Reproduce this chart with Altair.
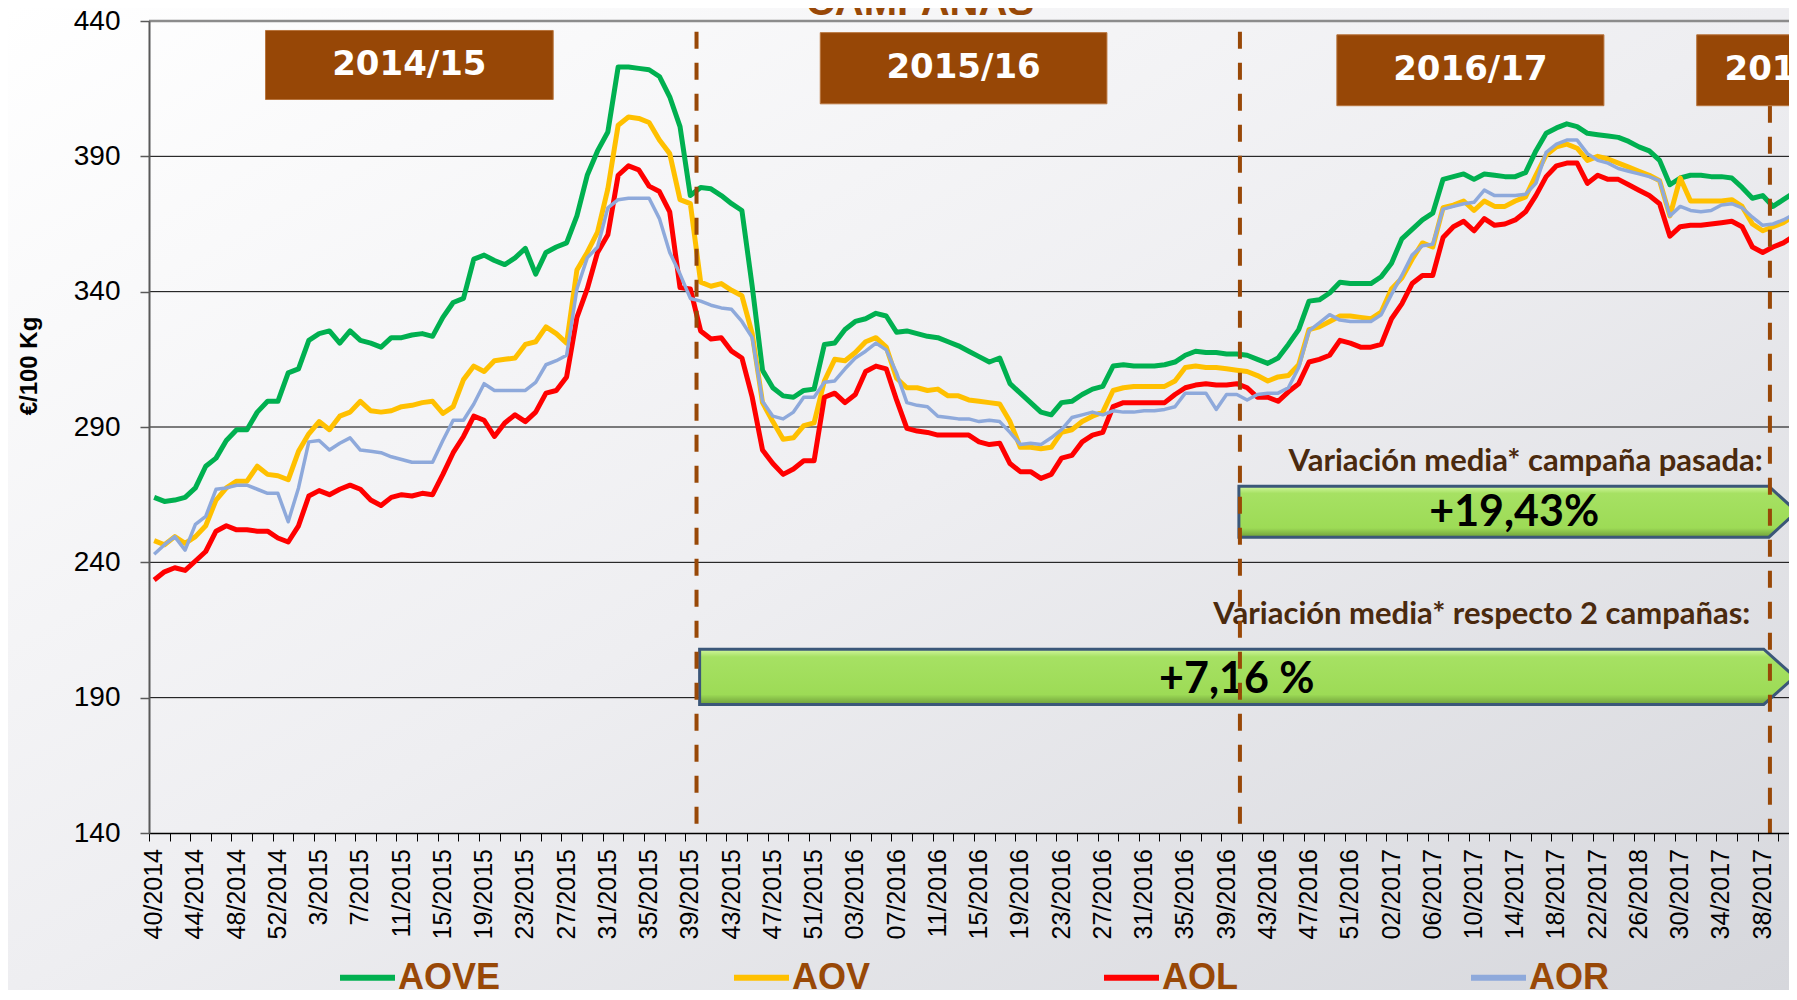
import altair as alt
import pandas as pd

# ---------------- data ----------------
week_labels = [
    "40/2014", "44/2014", "48/2014", "52/2014", "3/2015", "7/2015", "11/2015", "15/2015",
    "19/2015", "23/2015", "27/2015", "31/2015", "35/2015", "39/2015", "43/2015", "47/2015",
    "51/2015", "03/2016", "07/2016", "11/2016", "15/2016", "19/2016", "23/2016", "27/2016",
    "31/2016", "35/2016", "39/2016", "43/2016", "47/2016", "51/2016", "02/2017", "06/2017",
    "10/2017", "14/2017", "18/2017", "22/2017", "26/2018", "30/2017", "34/2017", "38/2017",
]

aove = [
    264, 262.5, 263, 264, 267.5, 275.5, 278.5, 285, 289, 289, 295.5, 299.5, 299.5, 310, 311.5,
    322, 324.5, 325.5, 321, 325.5, 322, 321, 319.5, 323, 323, 324, 324.5, 323.5, 330.5, 336,
    337.5, 352, 353.5, 351.5, 350, 352.5, 356, 346.5, 354.5, 356.5, 358,
    368, 383, 392, 399, 423, 423, 422.5, 422, 419.5, 412, 401, 375.5, 378.5, 378, 375.5, 372.5,
    370, 342, 311, 304.5, 301.5, 301, 303.5, 304, 320.5, 321, 326, 329, 330, 332, 331, 325,
    325.5, 324.5, 323.5, 323, 321.5, 320, 318, 316, 314, 315.5,
    306, 302.5, 299, 295.5, 294.5, 299, 299.5, 302, 304, 305, 312.5, 313, 312.5, 312.5, 312.5,
    313, 314, 316.5, 318, 317.5, 317.5, 317, 317, 316.5, 315, 313.5, 315.5, 320.5, 326, 336.5,
    337, 339.5, 343.5, 343, 343, 343, 345.5, 350.5, 359.5, 363,
    366.5, 369, 381.5, 382.5, 383.5, 381.5, 383.5, 383, 382.5, 382.5, 384, 392, 398.5, 400.5,
    402, 401, 398.5, 398, 397.5, 397, 395.5, 393.5, 392, 388.5, 379.5, 382, 383, 383, 382.5,
    382.5, 382, 378.5, 374.5, 375.5, 371.5, 374, 376.5,
]
aov = [
    248, 246.5, 249.5, 247, 249.5, 253.5, 263, 267.5, 270, 270, 275.5, 272.5, 272, 270.5, 281,
    287.5, 292, 289, 294, 295.5, 299.5, 296, 295.5, 296, 297.5, 298, 299, 299.5, 295, 297.5,
    307.5, 312.5, 310.5, 314.5, 315, 315.5, 320.5, 321.5, 327, 324.5, 321,
    348, 354.5, 362, 378, 401.5, 404.5, 404, 402.5, 396, 391, 374, 372.5, 343.5, 342, 343,
    340.5, 338.5, 324.5, 299, 292, 285.5, 286, 290.5, 291.5, 307, 315, 314.5, 317.5, 321.5,
    323, 319.5, 308, 304.5, 304.5, 303.5, 304, 301.5, 301.5, 300, 299.5, 299, 298.5,
    292, 282.5, 282.5, 282, 282.5, 288, 289, 292, 294, 295.5, 303.5, 304.5, 305, 305, 305, 305,
    307, 312, 312.5, 312, 312, 311.5, 311, 310.5, 309, 307, 308.5, 309, 313, 326, 327, 329,
    331, 331, 330.5, 330, 332.5, 341, 345, 352,
    358, 356.5, 371, 372, 373.5, 370, 373.5, 371.5, 371.5, 373.5, 375, 383, 390.5, 393.5, 394.5,
    393, 388.5, 390, 389, 387.5, 386, 384.5, 383, 381, 368, 382, 373.5, 373.5, 373.5, 373.5,
    374, 371.5, 365, 362.5, 364, 365.5, 368,
]
aol = [
    233.5, 236.5, 238, 237, 240.5, 244, 251.5, 253.5, 252, 252, 251.5, 251.5, 249, 247.5, 253.5,
    264.5, 266.5, 265, 267, 268.5, 267, 263, 261, 264, 265, 264.5, 265.5, 265, 272.5, 280.5,
    286.5, 294, 292.5, 286.5, 291.5, 294.5, 292, 295.5, 302.5, 303.5, 308.5,
    330.5, 341, 354.5, 361, 383, 386.5, 385, 379, 377, 369.5, 341.5, 341, 325.5, 322.5, 323,
    318, 315.5, 301, 281.5, 276.5, 272.5, 274.5, 277.5, 277.5, 301, 302.5, 299, 302, 310.5,
    312.5, 311.5, 300, 289.5, 288.5, 288, 287, 287, 287, 287, 284.5, 283.5, 284,
    276.5, 273.5, 273.5, 271, 272.5, 278.5, 279.5, 284.5, 287, 288, 297.5, 299, 299, 299, 299,
    299, 302, 304.5, 305.5, 306, 305.5, 305.5, 306, 304.5, 301, 301, 299.5, 303, 306, 314, 315,
    316.5, 322, 321, 319.5, 319.5, 320.5, 330, 335.5, 343,
    346, 346, 360, 364, 366, 362.5, 367, 364.5, 365, 366.5, 369.5, 375.5, 382.5, 386.5, 387.5,
    387.5, 380, 383, 381.5, 381.5, 379.5, 377.5, 375.5, 372.5, 360.5, 364, 364.5, 364.5, 365,
    365.5, 366, 364, 356.5, 354.5, 356.5, 358, 360.5,
]
aor = [
    243, 246.5, 249.5, 244.5, 254, 257, 267, 267.5, 268.5, 268.5, 267, 265.5, 265.5, 255, 267.5,
    284.5, 285, 281.5, 284, 286, 281.5, 281, 280.5, 279, 278, 277, 277, 277, 285, 292.5, 292.5,
    298.5, 306, 303.5, 303.5, 303.5, 303.5, 306.5, 313, 314.5, 316.5,
    341, 352.5, 356.5, 371, 374, 374.5, 374.5, 374.5, 367, 354.5, 346.5, 337.5, 336.5, 335, 334,
    333.5, 329, 323, 299.5, 294, 293, 295.5, 301, 301, 306.5, 307, 311.5, 315.5, 318, 321,
    318.5, 310, 299, 298, 297.5, 294, 293.5, 293, 293, 292, 292.5, 292,
    288, 283.5, 284, 283.5, 286, 289, 293.5, 294.5, 295.5, 294.5, 296, 295.5, 295.5, 296, 296,
    296.5, 297.5, 302.5, 302.5, 302.5, 296.5, 302, 302, 300, 302, 302.5, 302.5, 304.5, 312,
    325.5, 328.5, 331.5, 329.5, 329, 329, 329, 331.5, 339, 346, 353.5,
    357, 357.5, 370.5, 371.5, 372.5, 373, 377.5, 375.5, 375.5, 375.5, 376, 380, 391.5, 394.5,
    396, 396, 391, 388.5, 387.5, 385.5, 384.5, 383.5, 382.5, 381, 368, 371.5, 370, 369.5, 370,
    372, 372.5, 371, 367.5, 364.5, 365, 366.5, 368.5,
]

series_names = ["AOVE", "AOV", "AOL", "AOR"]
series_colors = ["#00B050", "#FFC000", "#FF0000", "#8EA9DB"]
series_values = [aove, aov, aol, aor]

y_ticks = [140, 190, 240, 290, 340, 390, 440]

campaign_labels = ["2014/15", "2015/16", "2016/17", "2017/18"]
campaign_from = [10.8, 64.6, 114.7, 149.6]
campaign_to = [38.7, 92.4, 140.6, 159.2]
campaign_top = [436.5, 435.7, 434.9, 434.9]
campaign_bottom = [411.0, 409.4, 408.7, 408.7]
campaign_text_x = [24.75, 78.5, 127.65, 152.3]

campaign_breaks = [52.6, 105.3, 156.7]
break_tops = [436.0, 436.0, 408.7]

arrow_texts = ["+19,43%", "+7,16 %"]
arrow_from = [105.2, 52.9]
arrow_head = [156.6, 156.1]
arrow_tip = [159.3, 159.1]
arrow_top = [268.1, 207.9]
arrow_bottom = [249.3, 187.5]

note_texts = ["Variación media* campaña pasada:", "Variación media* respecto 2 campañas:"]

# ---------------- tables ----------------
rows = []
for name, vals in zip(series_names, series_values):
    for i, v in enumerate(vals):
        rows.append({"semana": i, "serie": name, "precio": v})
df = pd.DataFrame(rows)

label_df = pd.DataFrame({"semana": [4 * k for k in range(len(week_labels))], "etiqueta": week_labels})
grid_df = pd.DataFrame({"y": y_ticks[1:-1]})
box_df = pd.DataFrame({"x0": campaign_from, "x1": campaign_to, "y0": campaign_top, "y1": campaign_bottom,
                       "label": campaign_labels, "xt": campaign_text_x})
box_df["yc"] = (box_df["y0"] + box_df["y1"]) / 2
break_df = pd.DataFrame({"x": campaign_breaks, "ytop": break_tops, "ybot": [140] * 3})

arrow_rows = []
for k in range(2):
    mid = (arrow_top[k] + arrow_bottom[k]) / 2
    arrow_rows += [
        {"arrow": k, "x": arrow_from[k], "yt": arrow_top[k], "yb": arrow_bottom[k]},
        {"arrow": k, "x": arrow_head[k], "yt": arrow_top[k], "yb": arrow_bottom[k]},
        {"arrow": k, "x": arrow_tip[k], "yt": mid, "yb": mid},
    ]
arrow_df = pd.DataFrame(arrow_rows)
arrow_text_df = pd.DataFrame({"x": [131.9, 105.0], "y": [258.1, 196.4], "t": arrow_texts})
note_df = pd.DataFrame({"x": [156.0, 154.8], "y": [273.7, 217.1], "t": note_texts})

# ---------------- layout ----------------
W, H = 1640, 812
PAD = {"left": 141, "top": 13, "right": 0, "bottom": 157}

xscale = alt.Scale(domain=[-0.5, 158.55], nice=False, zero=False)
yscale = alt.Scale(domain=[140, 440], nice=False, zero=False)
xaxis = alt.Axis(values=[-0.5 + 2 * k for k in range(80)], labels=False, ticks=True, tickSize=8,
                 tickColor="black", tickWidth=1, domainColor="black", domainWidth=1.5, grid=False,
                 title=None, zindex=1)
yaxis = alt.Axis(values=y_ticks, grid=False, tickSize=9, tickColor="#595959", tickWidth=1.5,
                 domainColor="#595959", domainWidth=2, labelFont="Liberation Sans", labelFontSize=28,
                 labelColor="black", labelPadding=20, title=None, zindex=1, format="d")


def X(f):
    return alt.X(f, type="quantitative", scale=xscale, axis=xaxis)


def Y(f):
    return alt.Y(f, type="quantitative", scale=yscale, axis=yaxis)


bg_grad = alt.LinearGradient(gradient="linear", x1=0, y1=0, x2=1, y2=1, stops=[
    alt.GradientStop(color="#ffffff", offset=0),
    alt.GradientStop(color="#eeeef1", offset=0.5),
    alt.GradientStop(color="#d6d7dc", offset=1),
])
background = alt.Chart(pd.DataFrame({"a": [0]})).mark_rect(fill=bg_grad).encode(
    x=alt.value(-PAD["left"]), x2=alt.value(W + PAD["right"]),
    y=alt.value(-PAD["top"]), y2=alt.value(H + PAD["bottom"]))

grid = alt.Chart(grid_df).mark_rule(color="black", strokeWidth=1).encode(y=Y("y"))
top_border = alt.Chart(pd.DataFrame({"y": [440]})).mark_rule(color="#8c8c8c", strokeWidth=2.5).encode(y=Y("y"))

color = alt.Color("serie:N", scale=alt.Scale(domain=series_names, range=series_colors),
                  legend=alt.Legend(orient="none", legendX=188, legendY=926, direction="horizontal",
                                    columns=4, columnPadding=221, symbolType="stroke", symbolSize=3025,
                                    symbolStrokeWidth=6, labelFont="Liberation Sans", labelFontSize=36,
                                    labelFontWeight="bold", labelColor="#984807", labelOffset=0,
                                    labelLimit=300, title=None, padding=0, rowPadding=0))

widths = {"AOVE": 5, "AOV": 5, "AOL": 5, "AOR": 3.5}
lines = []
for name in series_names:
    lines.append(
        alt.Chart(df).transform_filter(alt.datum.serie == name)
        .mark_line(strokeWidth=widths[name], strokeJoin="round")
        .encode(x=X("semana"), y=Y("precio"), color=color, order="semana:Q")
    )

arrow_grad = alt.LinearGradient(gradient="linear", x1=0, y1=0, x2=0, y2=1, stops=[
    alt.GradientStop(color="#d2f7a0", offset=0),
    alt.GradientStop(color="#a6e163", offset=0.14),
    alt.GradientStop(color="#9ddb56", offset=0.82),
    alt.GradientStop(color="#6f9f3a", offset=1),
])
arrows = []
for k in range(2):
    arrows.append(
        alt.Chart(arrow_df).transform_filter(alt.datum.arrow == k)
        .mark_area(orient="vertical", fill=arrow_grad, stroke="#3b5779", strokeWidth=3,
                   strokeJoin="miter")
        .encode(x=X("x"), y=Y("yt"), y2="yb")
    )
arrow_labels = alt.Chart(arrow_text_df).mark_text(font="Lato", fontWeight="bold", fontSize=43, color="black",
                                                  align="center", baseline="middle").encode(
    x=X("x"), y=Y("y"), text="t:N")
notes = alt.Chart(note_df).mark_text(font="Lato", fontWeight="bold", fontSize=31, color="#4b2a0e",
                                     align="right", baseline="alphabetic").encode(
    x=X("x"), y=Y("y"), text="t:N")

breaks = alt.Chart(break_df).mark_rule(color="#984807", strokeWidth=4, strokeDash=[17, 14]).encode(
    x=X("x"), y=Y("ytop"), y2="ybot")

boxes = alt.Chart(box_df).mark_rect(fill="#974706", stroke="#b8743c", strokeWidth=1).encode(
    x=X("x0"), x2="x1", y=Y("y0"), y2="y1")
box_text = alt.Chart(box_df.iloc[:3]).mark_text(font="DejaVu Sans", fontWeight="bold", fontSize=34,
                                                color="white", align="center", baseline="middle").encode(
    x=X("xt"), y=Y("yc"), text="label:N")
box_text_last = alt.Chart(box_df.iloc[3:]).mark_text(font="DejaVu Sans", fontWeight="bold", fontSize=34,
                                                     color="white", align="left", baseline="middle").encode(
    x=X("xt"), y=Y("yc"), text="label:N")

x_labels = alt.Chart(label_df).mark_text(font="Liberation Sans", fontSize=25, color="black", angle=270,
                                         align="right", baseline="middle").encode(
    x=X("semana"), y=alt.value(H + 16), text="etiqueta:N")

y_title = alt.Chart(pd.DataFrame({"t": ["€/100 Kg"]})).mark_text(
    font="Liberation Sans", fontWeight="bold", fontSize=24, color="black", angle=270,
    align="center", baseline="middle").encode(x=alt.value(-119), y=alt.value(345), text="t:N")

title = alt.Chart(pd.DataFrame({"t": ["CAMPAÑAS"]})).mark_text(
    font="Liberation Sans", fontWeight="bold", fontSize=40, color="#984807",
    align="center", baseline="alphabetic").encode(x=alt.value(771), y=alt.value(-6), text="t:N")

chart = alt.layer(
    background, grid, top_border, *lines, *arrows, arrow_labels, notes, breaks, boxes,
    box_text, box_text_last, x_labels, y_title, title,
).properties(
    width=W, height=H, padding=PAD, autosize=alt.AutoSizeParams(type="none"), background="#ffffff"
).configure_view(strokeWidth=0)

assert all(len(v) == 160 for v in series_values)

chart.save("out.html", embed_options={"renderer": "svg", "actions": False})
